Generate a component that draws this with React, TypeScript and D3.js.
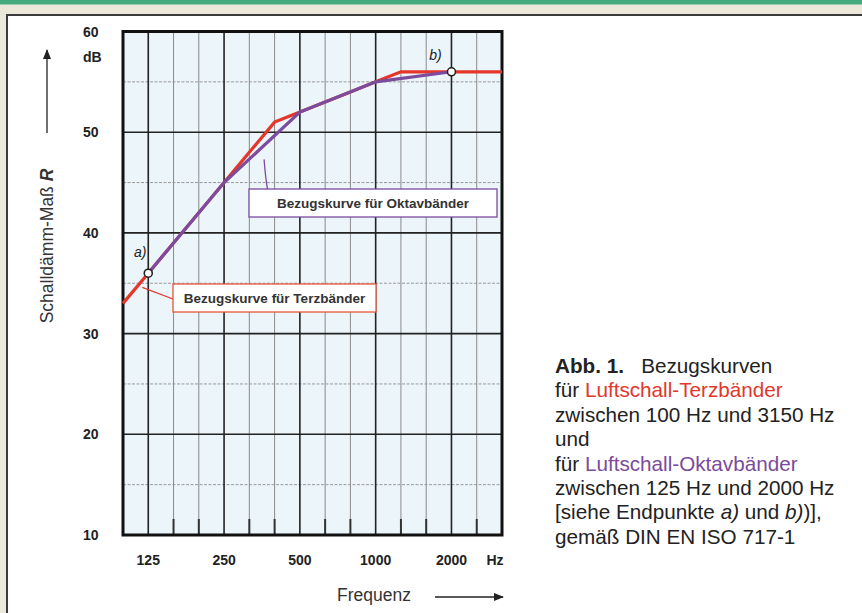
import React from "react";
import * as d3 from "d3";

const bands = ["100","125","160","200","250","315","400","500","630","800","1000","1250","1600","2000","2500","3150"];
const terzValues = [33,36,39,42,45,48,51,52,53,54,55,56,56,56,56,56];
const octBands = ["125","250","500","1000","2000"];
const octValues = [36,45,52,55,56];
const octaveLabels = ["125","250","500","1000","2000"];
const yTicks = [10,20,30,40,50,60];
const yMinor = [15,25,35,45,55];
const endpoints = [{ band: "125", value: 36, label: "a)" }, { band: "2000", value: 56, label: "b)" }];
const captionLines: { text: string; color?: string; bold?: boolean; italic?: boolean }[][] = [
  [{ text: "Abb. 1.", bold: true }, { text: "   Bezugskurven" }],
  [{ text: "für " }, { text: "Luftschall-Terzbänder", color: "#e2372b" }],
  [{ text: "zwischen 100 Hz und 3150 Hz" }],
  [{ text: "und" }],
  [{ text: "für " }, { text: "Luftschall-Oktavbänder", color: "#7a4b9c" }],
  [{ text: "zwischen 125 Hz und 2000 Hz" }],
  [{ text: "[siehe Endpunkte " }, { text: "a)", italic: true }, { text: " und " }, { text: "b)", italic: true }, { text: ")]," }],
  [{ text: "gemäß DIN EN ISO 717-1" }],
];

const RED = "#e5362a";
const PURPLE = "#7b4c9e";
const FONT = "'Liberation Sans', Arial, Helvetica, sans-serif";

export default function App() {
  const x = d3.scalePoint<string>().domain(bands).range([123, 502]);
  const y = d3.scaleLinear().domain([10, 60]).range([535, 31.5]);
  const left = 123, right = 502, top = y(60), bottom = y(10);
  const line = d3.line<[string, number]>().x(d => x(d[0])!).y(d => y(d[1]));
  const terzPts: [string, number][] = bands.map((b, i) => [b, terzValues[i]]);
  const octPts: [string, number][] = octBands.map((b, i) => [b, octValues[i]]);
  const isOct = (b: string) => octaveLabels.includes(b);
  const innerBands = bands.slice(1, bands.length - 1);

  return (
    <svg width={862} height={613} style={{ position: "absolute", left: 0, top: 0 }} fontFamily={FONT}>
      <defs>
        <marker id="ah" viewBox="0 0 10 10" refX="9" refY="5" markerWidth="10" markerHeight="10" markerUnits="userSpaceOnUse" orient="auto">
          <path d="M0,1 L10,5 L0,9 Z" fill="#222" />
        </marker>
      </defs>
      {/* frame */}
      <rect x={0} y={0} width={862} height={613} fill="#ebe8da" />
      <rect x={0} y={0} width={862} height={4.5} fill="#45ab7f" />
      <rect x={6} y={14} width={856} height={599} fill="#3a3a3a" />
      <rect x={8} y={16} width={854} height={597} fill="#ffffff" />

      {/* plot background */}
      <rect x={left} y={top} width={right - left} height={bottom - top} fill="#ecf5fa" />
      {/* minor horizontal */}
      {yMinor.map(v => (
        <line key={"hm" + v} x1={left} x2={right} y1={y(v)} y2={y(v)} stroke="#9a9a9a" strokeWidth={1} strokeDasharray="3,1.5" />
      ))}
      {/* minor vertical */}
      {innerBands.filter(b => !isOct(b)).map(b => (
        <g key={"vm" + b}>
          <line x1={x(b)} x2={x(b)} y1={top} y2={bottom} stroke="#8a8a8a" strokeWidth={1} />
          <line x1={x(b)} x2={x(b)} y1={bottom - 16} y2={bottom} stroke="#333" strokeWidth={2} />
        </g>
      ))}
      {/* major horizontal */}
      {[20, 30, 40, 50].map(v => (
        <line key={"hM" + v} x1={left} x2={right} y1={y(v)} y2={y(v)} stroke="#222" strokeWidth={1.6} />
      ))}
      {/* major vertical */}
      {innerBands.filter(isOct).map(b => (
        <line key={"vM" + b} x1={x(b)} x2={x(b)} y1={top} y2={bottom} stroke="#222" strokeWidth={1.6} />
      ))}
      <rect x={left} y={top} width={right - left} height={bottom - top} fill="none" stroke="#111" strokeWidth={3} />

      {/* leader lines */}
      <path d={`M${x("250")! + 48},${y(44.1)} Q${x("250")! + 44},${y(42.5)} ${x("250")! + 40},${y(47.3)}`} fill="none" stroke={PURPLE} strokeWidth={1.3} />
      <path d={`M173,299 L${x("125")! - 6},${y(34.6)}`} fill="none" stroke={RED} strokeWidth={1.3} />

      {/* curves */}
      <path d={line(terzPts)!} fill="none" stroke={RED} strokeWidth={3.2} strokeLinejoin="miter" />
      <path d={line(octPts)!} fill="none" stroke={PURPLE} strokeWidth={3.2} strokeLinejoin="miter" />

      {/* endpoints */}
      {endpoints.map(e => (
        <circle key={e.label} cx={x(e.band)} cy={y(e.value)} r={4} fill="#fff" stroke="#222" strokeWidth={1.6} />
      ))}
      <text x={x("125")! - 8} y={y(36) - 16} fontSize={14} fontStyle="italic" fill="#222" textAnchor="middle">a)</text>
      <text x={x("2000")! - 16} y={y(56) - 12} fontSize={14} fontStyle="italic" fill="#222" textAnchor="middle">b)</text>

      {/* annotation boxes */}
      <rect x={249} y={189} width={248} height={28} fill="#fff" stroke={PURPLE} strokeWidth={1.3} />
      <text x={373} y={208} fontSize={13.5} fontWeight="bold" fill="#333" textAnchor="middle">Bezugskurve für Oktavbänder</text>
      <rect x={173} y={284} width={203} height={28} fill="#fff" stroke="#e8553a" strokeWidth={1.3} />
      <text x={274.5} y={303} fontSize={13.5} fontWeight="bold" fill="#333" textAnchor="middle">Bezugskurve für Terzbänder</text>

      {/* y tick labels */}
      {yTicks.map(v => (
        <text key={"yt" + v} x={83} y={y(v) + 5} fontSize={14} fontWeight="bold" fill="#222">{v}</text>
      ))}
      <text x={83} y={62} fontSize={14} fontWeight="bold" fill="#222">dB</text>

      {/* x tick labels */}
      {octaveLabels.map(b => (
        <text key={"xt" + b} x={x(b)} y={565} fontSize={14} fontWeight="bold" fill="#222" textAnchor="middle">{b}</text>
      ))}
      <text x={495} y={565} fontSize={14} fontWeight="bold" fill="#222" textAnchor="middle">Hz</text>

      {/* axis titles */}
      <text transform="translate(53,246) rotate(-90)" fontSize={17.5} fill="#333" textAnchor="middle">
        Schalldämm-Maß <tspan fontWeight="bold" fontStyle="italic">R</tspan>
      </text>
      <line x1={47} y1={133} x2={47} y2={50} stroke="#222" strokeWidth={1.3} markerEnd="url(#ah)" />
      <text x={374} y={601} fontSize={17.5} fill="#333" textAnchor="middle">Frequenz</text>
      <line x1={435} y1={597} x2={503} y2={597} stroke="#222" strokeWidth={1.3} markerEnd="url(#ah)" />

      {/* caption */}
      {captionLines.map((ln, i) => (
        <text key={"cap" + i} x={555} y={373 + i * 24.4} fontSize={20.7} fill="#222" xmlSpace="preserve" style={{ whiteSpace: "pre" }}>
          {ln.map((s, j) => (
            <tspan key={j} fill={s.color || "#222"} fontWeight={s.bold ? "bold" : "normal"} fontStyle={s.italic ? "italic" : "normal"}>{s.text}</tspan>
          ))}
        </text>
      ))}
    </svg>
  );
}
